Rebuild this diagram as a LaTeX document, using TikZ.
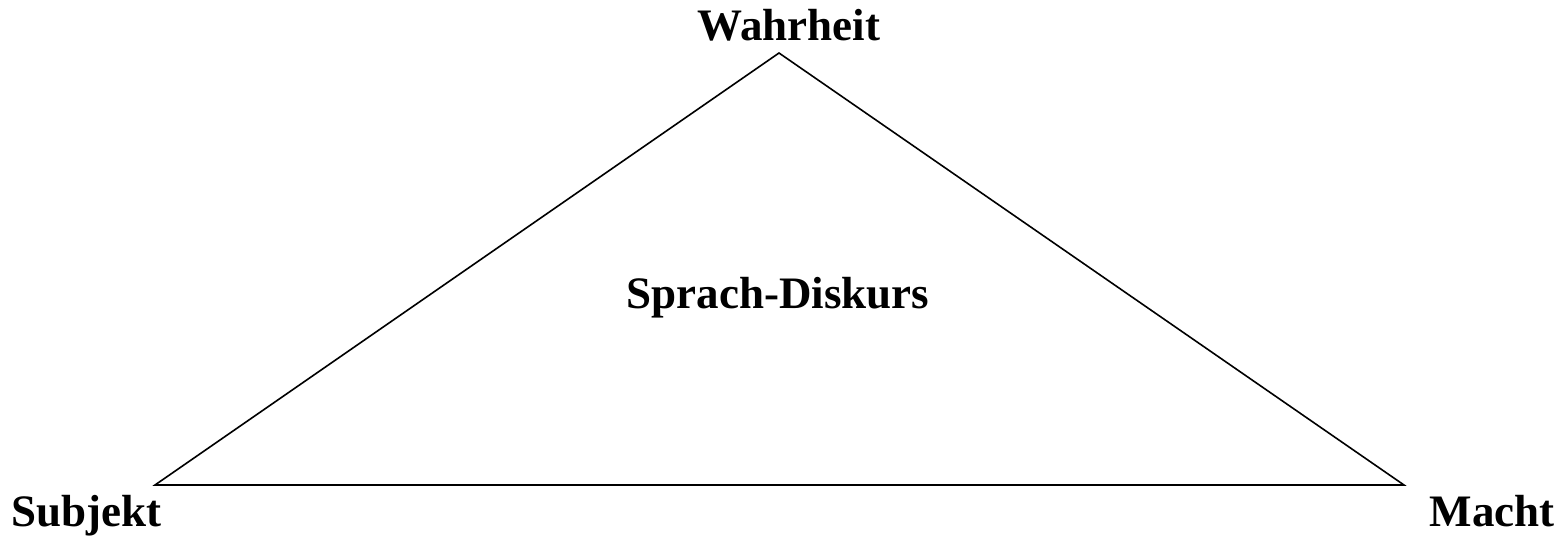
\documentclass[tikz,border=0pt]{standalone}
\usepackage{fontspec}
\setmainfont{Liberation Serif}
\begin{document}
\begin{tikzpicture}[x=1pt,y=-1pt,
  lbl/.style={font=\fontsize{45}{50}\selectfont\bfseries, inner sep=0pt, anchor=base},
  edge/.style={line width=1.6pt, line join=miter}]
\useasboundingbox (0,0) rectangle (1561,539);
\coordinate (top) at (779,53);
\coordinate (left) at (155,485);
\coordinate (right) at (1404,485);
\draw[edge] (top) -- (right) -- (left) -- cycle;
\node[lbl] (w) at (789,40) {Wahrheit};
\node[lbl, anchor=base west] (s) at (11,526) {Subjekt};
\node[lbl, anchor=base east] (m) at (1555,526) {Macht};
\node[lbl] (d) at (778,308) {Sprach-Diskurs};
\end{tikzpicture}
\end{document}
